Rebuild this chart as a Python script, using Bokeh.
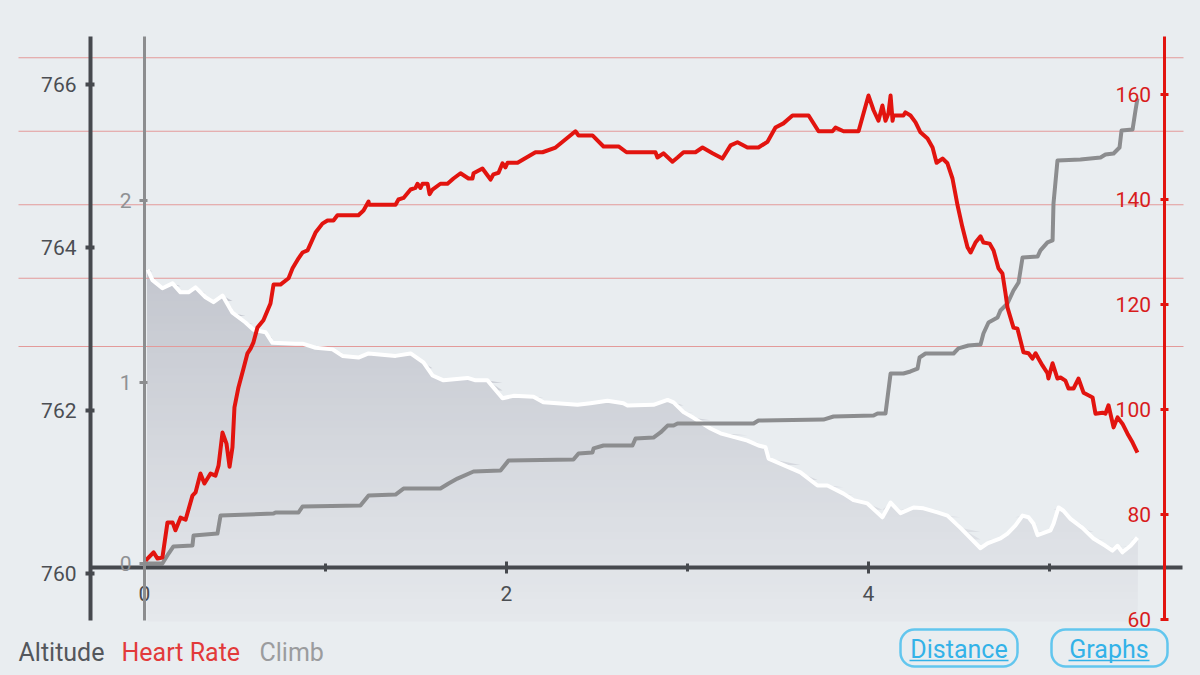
import numpy as np
from bokeh.plotting import figure
from bokeh.models import Range1d, LinearAxis, FixedTicker, Label
from bokeh.embed import file_html
from bokeh.resources import INLINE

# ---------------- data ----------------
hr_dist = [0.006,0.050,0.072,0.099,0.127,0.155,0.171,0.199,0.227,0.265,
           0.282,0.309,0.331,0.365,0.392,0.409,0.431,0.453,0.470,0.486,
           0.497,0.519,0.547,0.569,0.586,0.602,0.624,0.657,0.696,0.713,
           0.751,0.796,0.818,0.851,0.873,0.901,0.945,0.983,1.011,1.044,
           1.066,1.182,1.210,1.238,1.240,1.387,1.403,1.431,1.470,1.497,
           1.508,1.525,1.536,1.564,1.575,1.591,1.635,1.674,1.707,1.746,
           1.790,1.812,1.818,1.867,1.912,1.928,1.956,1.978,1.994,2.006,
           2.061,2.160,2.199,2.271,2.381,2.398,2.475,2.536,2.619,2.663,
           2.823,2.834,2.867,2.917,2.945,2.978,3.044,3.083,3.138,3.193,
           3.238,3.276,3.331,3.392,3.442,3.486,3.530,3.580,3.669,3.724,
           3.801,3.818,3.862,3.945,4.000,4.028,4.055,4.077,4.094,4.110,
           4.122,4.133,4.138,4.193,4.204,4.232,4.260,4.287,4.326,4.354,
           4.376,4.409,4.436,4.464,4.492,4.519,4.547,4.564,4.591,4.619,
           4.635,4.669,4.691,4.718,4.740,4.757,4.768,4.801,4.823,4.840,
           4.856,4.884,4.906,4.923,4.939,4.961,4.989,4.994,5.017,5.044,
           5.061,5.088,5.105,5.133,5.160,5.188,5.215,5.238,5.254,5.293,
           5.309,5.326,5.354,5.376,5.403,5.431,5.459,5.486]
hr_bpm = [71.2,72.8,71.6,71.8,78.5,78.5,77.0,79.4,79.0,83.6,
          84.2,87.8,85.9,87.8,87.4,89.3,95.6,93.5,89.1,92.8,
          100.4,104.2,107.8,110.7,111.6,112.8,115.6,117.0,120.2,123.8,
          123.8,125.0,126.9,128.8,129.9,130.3,133.7,135.4,136.0,136.0,
          137.0,137.0,137.9,139.6,139.0,139.0,140.0,140.3,141.9,142.2,
          143.0,142.2,143.0,143.0,141.0,141.9,143.0,143.0,144.0,145.0,
          144.0,144.0,145.0,145.9,143.8,144.8,145.1,146.9,146.1,147.0,
          147.0,149.0,149.0,149.9,153.0,152.2,152.2,150.1,150.1,149.0,
          149.0,148.0,148.8,147.2,148.0,149.0,149.0,149.9,148.8,147.8,
          150.3,150.9,149.9,149.9,151.0,153.7,154.5,156.0,156.0,153.0,
          153.0,153.7,153.0,153.0,159.8,157.0,155.0,157.9,155.0,156.4,
          159.8,155.0,156.0,156.0,156.6,156.0,154.7,152.8,151.6,149.9,
          147.0,147.8,146.9,144.0,138.9,134.7,130.9,129.9,131.8,133.0,
          131.8,131.6,130.3,126.9,125.9,122.1,119.4,115.6,115.4,113.1,
          110.9,110.7,109.7,110.7,109.7,108.4,106.9,105.9,108.8,105.9,
          106.1,105.5,104.0,104.0,105.9,103.2,102.7,102.3,99.2,99.4,
          99.2,100.8,96.6,98.5,97.3,95.4,93.7,91.8]

climb_dist = [0.006,0.099,0.133,0.160,0.265,0.271,0.403,0.420,0.713,0.724,
              0.851,0.873,1.193,1.238,1.387,1.431,1.635,1.680,1.729,1.818,
              1.967,2.011,2.370,2.398,2.475,2.481,2.536,2.696,2.713,2.812,
              2.851,2.890,2.923,2.945,3.365,3.392,3.751,3.807,4.028,4.050,
              4.094,4.122,4.193,4.232,4.271,4.282,4.315,4.470,4.497,4.552,
              4.619,4.635,4.663,4.713,4.729,4.768,4.801,4.829,4.851,4.934,
              4.950,4.989,5.017,5.022,5.044,5.171,5.282,5.309,5.354,5.387,
              5.398,5.459,5.475,5.486]
climb_val = [0.00,0.00,0.055,0.094,0.099,0.154,0.165,0.264,0.275,0.281,
             0.281,0.314,0.320,0.375,0.380,0.413,0.413,0.441,0.468,0.507,
             0.512,0.567,0.573,0.606,0.612,0.634,0.650,0.650,0.689,0.694,
             0.722,0.760,0.760,0.771,0.771,0.788,0.793,0.810,0.815,0.826,
             0.826,1.047,1.047,1.058,1.074,1.135,1.157,1.157,1.185,1.201,
             1.207,1.267,1.328,1.355,1.394,1.433,1.504,1.548,1.686,1.691,
             1.725,1.769,1.780,1.983,2.220,2.226,2.237,2.253,2.259,2.292,
             2.386,2.391,2.496,2.562]

alt_dist = [0.017,0.044,0.099,0.155,0.199,0.243,0.282,0.337,0.381,0.431,
            0.486,0.558,0.602,0.669,0.707,0.834,0.873,0.945,1.039,1.094,
            1.182,1.238,1.387,1.470,1.541,1.591,1.652,1.785,1.829,1.895,
            1.978,2.039,2.149,2.204,2.392,2.464,2.558,2.646,2.669,2.812,
            2.890,2.923,2.978,3.033,3.127,3.182,3.331,3.392,3.431,3.448,
            3.624,3.718,3.773,3.862,3.917,3.994,4.077,4.122,4.177,4.249,
            4.304,4.381,4.436,4.508,4.619,4.657,4.729,4.768,4.812,4.851,
            4.884,4.912,4.934,5.006,5.022,5.050,5.077,5.116,5.182,5.243,
            5.309,5.348,5.376,5.403,5.448,5.486]
alt_m = [763.73,763.60,763.50,763.56,763.45,763.45,763.51,763.39,763.33,763.41,
         763.20,763.08,762.99,762.96,762.83,762.82,762.82,762.77,762.75,762.67,
         762.65,762.70,762.67,762.70,762.59,762.43,762.37,762.40,762.37,762.37,
         762.15,762.18,762.17,762.10,762.07,762.09,762.12,762.09,762.06,762.07,
         762.13,762.10,761.98,761.91,761.78,761.72,761.63,761.57,761.55,761.41,
         761.24,761.08,761.08,760.98,760.90,760.86,760.69,760.87,760.74,760.81,
         760.80,760.75,760.71,760.56,760.31,760.37,760.43,760.49,760.59,760.71,
         760.69,760.61,760.47,760.53,760.61,760.81,760.77,760.67,760.56,760.43,
         760.34,760.28,760.34,760.26,760.34,760.44]

hr_zones = [112, 125, 139, 153, 167]
alt_ticks = [760, 762, 764, 766]
climb_ticks = [0, 1, 2]
hr_ticks = [60, 80, 100, 120, 140, 160]
x_major = [0, 2, 4]
x_minor = [1, 3, 5]
legend_names = ["Altitude", "Heart Rate", "Climb"]
button_names = ["Distance", "Graphs"]

# ---------------- styling ----------------
BG = "#e9edf0"
DARK = "#46494e"
RED = "#e2140f"
GRAY = "#8c8d8f"
BLUE = "#33b2e8"
FONT = "Roboto"

W, H = 1200, 675

# pixel -> data helpers, used for layout placement only
def dx(X):
    return (X - 144) / 181.0

def dy(Y):
    return 760 + (573 - Y) / 81.5

p = figure(width=W, height=H, output_backend="svg", toolbar_location=None,
           x_range=Range1d(dx(0), dx(W)), y_range=Range1d(dy(H), dy(0)),
           x_axis_type=None, y_axis_type=None, min_border=0,
           background_fill_color=BG, border_fill_color=BG, outline_line_color=None)
p.extra_y_ranges = {
    "climb": Range1d(-(H - 563) / 181.5, 563 / 181.5),
    "hr": Range1d(60 - (H - 619) / 5.25, 60 + 619 / 5.25),
}

# ---- altitude gradient fill (stacked bands, darker toward the top) ----
alt = np.array(alt_m)
base = dy(621)
n_bands = 48
levels = np.linspace(base, 763.8, n_bands + 1)[:-1]
c_bot = np.array([229, 232, 236])
c_top = np.array([195, 198, 206])
for k, lo in enumerate(levels):
    t = k / (n_bands - 1)
    c = np.round(c_bot + t * (c_top - c_bot)).astype(int)
    col = "#%02x%02x%02x" % tuple(c)
    p.varea(x=alt_dist, y1=lo, y2=np.maximum(alt, lo), fill_color=col)

# ---- heart-rate zone lines ----
p.segment(x0=dx(18), x1=dx(1183), y0=hr_zones, y1=hr_zones, y_range_name="hr",
          line_color="#e39a9a", line_width=1)

# ---- series ----
p.line(alt_dist, alt_m, line_color="white", line_width=4, line_join="round")
p.line(climb_dist, climb_val, y_range_name="climb", line_color=GRAY,
       line_width=4, line_join="round")
p.line(hr_dist, hr_bpm, y_range_name="hr", line_color=RED, line_width=4,
       line_join="round")

# ---- axes ----
def style(ax, color, lab_color, lw, t_in, t_out, standoff):
    ax.axis_line_color = color
    ax.axis_line_width = lw
    ax.major_tick_line_color = color
    ax.major_tick_line_width = lw
    ax.major_tick_in = t_in
    ax.major_tick_out = t_out
    ax.minor_tick_line_color = None
    ax.major_label_text_color = lab_color
    ax.major_label_text_font = FONT
    ax.major_label_text_font_size = "21px"
    ax.major_label_standoff = standoff

ax_alt = LinearAxis(fixed_location=dx(90), bounds=(dy(620), dy(36)),
                    ticker=FixedTicker(ticks=alt_ticks))
style(ax_alt, DARK, "#4b4e53", 4, 4, 5, 9)
p.add_layout(ax_alt, "left")

ax_climb = LinearAxis(y_range_name="climb", fixed_location=0,
                      bounds=((563 - 620) / 181.5, (563 - 36) / 181.5),
                      ticker=FixedTicker(ticks=climb_ticks))
style(ax_climb, GRAY, "#8f9194", 3, 3, 5, 8)
p.add_layout(ax_climb, "left")

ax_hr = LinearAxis(y_range_name="hr", fixed_location=dx(1163.5),
                   bounds=(60 - (620 - 619) / 5.25, 60 + (619 - 36) / 5.25),
                   ticker=FixedTicker(ticks=hr_ticks))
style(ax_hr, RED, "#d81c1c", 3, 4, 4, 9)
p.add_layout(ax_hr, "left")

ax_x = LinearAxis(fixed_location=dy(567), bounds=(dx(90), dx(1182)),
                  ticker=FixedTicker(ticks=x_major, minor_ticks=x_minor))
style(ax_x, DARK, "#4b4e53", 4, 6, 6, 12)
ax_x.major_tick_line_width = 3
ax_x.minor_tick_line_color = DARK
ax_x.minor_tick_line_width = 3
ax_x.minor_tick_in = 4
ax_x.minor_tick_out = 4
p.add_layout(ax_x, "below")

# ---- legend texts ----
leg_colors = ["#54575c", "#e23a3a", "#9b9c9e"]
leg_x = [18, 121, 259]
for name, col, X in zip(legend_names, leg_colors, leg_x):
    p.add_layout(Label(x=dx(X), y=dy(652), text=name, text_color=col,
                       text_font=FONT, text_font_size="25px",
                       text_baseline="middle", text_align="left"))

# ---- buttons ----
btn_left = [900, 1051]
btn_right = [1017, 1167]
p.quad(left=[dx(v) for v in btn_left], right=[dx(v) for v in btn_right],
       top=dy(629), bottom=dy(666), fill_color=None, line_color="#62c6ee",
       line_width=2.5, border_radius=14)
btn_cx = [958.5, 1108.5]
ul_l = [909, 1068]
ul_r = [1008, 1149]
for name, cx, a, b in zip(button_names, btn_cx, ul_l, ul_r):
    p.add_layout(Label(x=dx(cx), y=dy(649), text=name, text_color=BLUE,
                       text_font=FONT, text_font_size="25px",
                       text_baseline="middle", text_align="center"))
    p.segment(x0=dx(a), x1=dx(b), y0=dy(660), y1=dy(660),
              line_color=BLUE, line_width=1.5)

html = file_html(p, INLINE)
css = ("<style>html,body{margin:0 !important;padding:0 !important;"
       "width:auto !important;overflow:hidden;background:%s;}</style></head>" % BG)
html = html.replace("</head>", css, 1)
open("out.html", "w").write(html)
